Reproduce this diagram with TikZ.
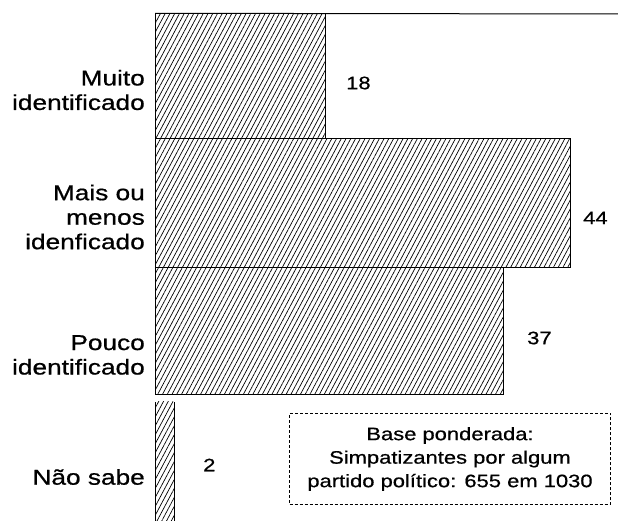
\documentclass[tikz,border=0pt]{standalone}
\usepackage{fontspec}
\setmainfont[FakeStretch=1.22,FakeBold=0.7]{Liberation Sans}
\usetikzlibrary{patterns.meta,positioning}

\begin{document}
\begin{tikzpicture}[
      x=1pt,y=1pt,
      hatch/.style={pattern={Lines[angle=62,distance=4.2pt,line width=0.7pt]}},
      bar/.style={draw,line width=0.8pt,hatch,inner sep=0,anchor=south west},
      cat/.style={align=right,anchor=east,inner sep=0,font=\fontsize{21.5}{24.5}\selectfont},
      val/.style={anchor=west,inner sep=0,font=\fontsize{18}{20}\selectfont},
      base/.style={draw,densely dashed,line width=0.7pt,align=center,inner sep=0,
        minimum width=321,minimum height=91,font=\fontsize{18}{23.5}\selectfont}
    ]
    \useasboundingbox (0,0) rectangle (618,521);
    % bars, 9.43pt per unit
    \node[bar,minimum width=170,minimum height=125] (muito) at (155,382) {};
    \node[bar,minimum width=415,minimum height=129] (mais)  at (155,253) {};
    \node[bar,minimum width=348,minimum height=127] (pouco) at (155,126) {};
    \coordinate (ns-top) at (174,119);
    \fill[hatch] (155,-2) rectangle (ns-top);
    \draw[line width=0.8pt] (155,-2) -- (155,119) (174,-2) -- (ns-top);
    \draw[line width=1pt] (muito.north west) -- (618,507);

    % category labels
    \node[cat] (l-muito) at (145,431) {Muito\\identificado};
    \node[cat] (l-mais)  at (145,304) {Mais ou\\menos\\idenficado};
    \node[cat] (l-pouco) at (145,166) {Pouco\\identificado};
    \node[cat] (l-ns)    at (145,44)  {Não sabe};

    % values
    \node[val] (v-muito) at (346,438) {18};
    \node[val] (v-mais)  at (583,303) {44};
    \node[val] (v-pouco) at (527,183) {37};
    \node[val] (v-ns)    at (203,56)  {2};

    \node[base] (nota) at (450,62)
      {Base ponderada:\\Simpatizantes por algum\\partido político: 655 em 1030};
  \end{tikzpicture}
\end{document}
